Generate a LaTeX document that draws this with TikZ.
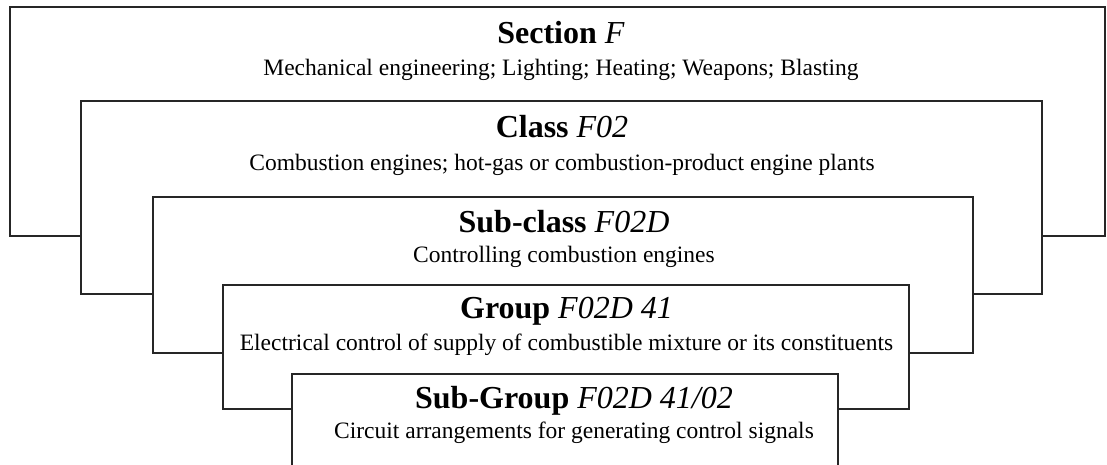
\documentclass[tikz,border=0pt]{standalone}
\usepackage{fontspec}
\setmainfont{Liberation Serif}
\begin{document}
\begin{tikzpicture}[x=1pt,y=-1pt,
  box/.style={draw=black!85, line width=1.3pt, fill=white, inner sep=0pt, outer sep=0pt, anchor=north west},
  ttl/.style={anchor=base, inner sep=0pt, font=\fontsize{32}{36}\selectfont\bfseries},
  sub/.style={anchor=base, inner sep=0pt, font=\fontsize{23.5}{26}\selectfont}]
\useasboundingbox (0,0) rectangle (1107,464);
\clip (0,0) rectangle (1107,464);
\node[box, minimum width=1095pt, minimum height=229pt] (b1) at (10,7) {};
\node[box, minimum width=961pt, minimum height=193pt] (b2) at (81,101) {};
\node[box, minimum width=820pt, minimum height=156pt] (b3) at (153,197) {};
\node[box, minimum width=686pt, minimum height=124pt] (b4) at (223,285) {};
\node[box, minimum width=546pt, minimum height=120pt] (b5) at (292,374) {};
\node[ttl] (t1) at (561,43) {Section \textit{\mdseries F}};
\node[sub] (s1) at (561,75) {Mechanical engineering; Lighting; Heating; Weapons; Blasting};
\node[ttl] (t2) at (562,137) {Class \textit{\mdseries F02}};
\node[sub] (s2) at (562,170) {Combustion engines; hot-gas or combustion-product engine plants};
\node[ttl] (t3) at (564,232) {Sub-class \textit{\mdseries F02D}};
\node[sub] (s3) at (564,262) {Controlling combustion engines};
\node[ttl] (t4) at (566.5,318) {Group \textit{\mdseries F02D 41}};
\node[sub] (s4) at (566.5,350) {Electrical control of supply of combustible mixture or its constituents};
\node[ttl] (t5) at (574,408) {Sub-Group \textit{\mdseries F02D 41/02}};
\node[sub] (s5) at (574,438) {Circuit arrangements for generating control signals};
\end{tikzpicture}
\end{document}
